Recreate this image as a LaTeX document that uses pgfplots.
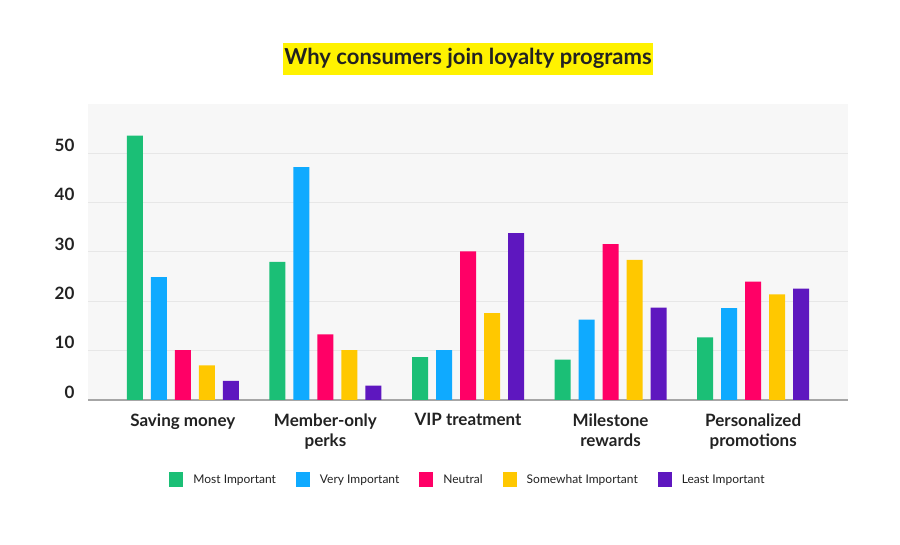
\documentclass[border=0pt]{standalone}
\usepackage{pgfplots}
\pgfplotsset{compat=1.18}
\usepackage{fontspec}
\setmainfont{Lato}

\definecolor{cMost}{HTML}{1BBF76}
\definecolor{cVery}{HTML}{0FAAFF}
\definecolor{cNeutral}{HTML}{FF0066}
\definecolor{cSome}{HTML}{FFC800}
\definecolor{cLeast}{HTML}{5E17BF}
\definecolor{plotbg}{HTML}{F7F7F7}
\definecolor{gridc}{HTML}{E7E7E7}
\definecolor{txt}{HTML}{222222}

\begin{document}
\begin{tikzpicture}
\useasboundingbox (0,0) rectangle (900pt,545pt);
\begin{axis}[
  at={(88pt,145pt)}, anchor=south west,
  scale only axis, width=760pt, height=296pt,
  ybar=8pt, bar width=16pt,
  xmin=-0.665, xmax=4.665, ymin=0, ymax=60,
  axis background/.style={fill=plotbg},
  separate axis lines,
  axis x line*=bottom, axis y line*=left,
  x axis line style={-, draw=black!35, line width=1.2pt},
  y axis line style={draw=none},
  major tick length=0pt,
  ytick={0,10,20,30,40,50},
  ymajorgrids, grid style={gridc, line width=1pt},
  /pgf/number format/assume math mode=true,
  yticklabel style={font=\bfseries\fontsize{17}{19}\selectfont, text=txt, yshift=8pt, xshift=-10pt},
  xtick={0,1,2,3,4},
  xticklabels={Saving money, Member-only\\perks, VIP treatment, Milestone\\rewards, Personalized\\promotions},
  xticklabel style={font=\bfseries\fontsize{17}{20}\selectfont, text=txt, align=center, yshift=-10pt},
  title={Why consumers join loyalty programs},
  title style={at={(0.5,1)}, anchor=center, yshift=39pt, fill=yellow, text=txt,
    font=\bfseries\fontsize{22}{26}\selectfont, inner xsep=1.5pt, inner ysep=5.5pt,
    text height=16pt, text depth=5pt},
  legend image code/.code={\fill[#1] (0pt,-7.5pt) rectangle (14pt,7.5pt);},
  legend style={at={(0.5,-0.27)}, anchor=center, draw=none, fill=none,
    legend columns=5, font=\fontsize{12}{14}\selectfont, text=txt,
    /tikz/every odd column/.append style={column sep=8pt},
    /tikz/every even column/.append style={column sep=18pt}},
]
\addplot[fill=cMost, draw=none] coordinates {(0,53.6) (1,28.0) (2,8.7) (3,8.2) (4,12.7)};
\addplot[fill=cVery, draw=none] coordinates {(0,24.9) (1,47.2) (2,10.1) (3,16.3) (4,18.6)};
\addplot[fill=cNeutral, draw=none] coordinates {(0,10.1) (1,13.3) (2,30.1) (3,31.6) (4,24.0)};
\addplot[fill=cSome, draw=none] coordinates {(0,7.0) (1,10.1) (2,17.6) (3,28.4) (4,21.4)};
\addplot[fill=cLeast, draw=none] coordinates {(0,3.9) (1,2.9) (2,33.8) (3,18.7) (4,22.6)};
\legend{Most Important, Very Important, Neutral, Somewhat Important, Least Important}
\end{axis}
\end{tikzpicture}
\end{document}
